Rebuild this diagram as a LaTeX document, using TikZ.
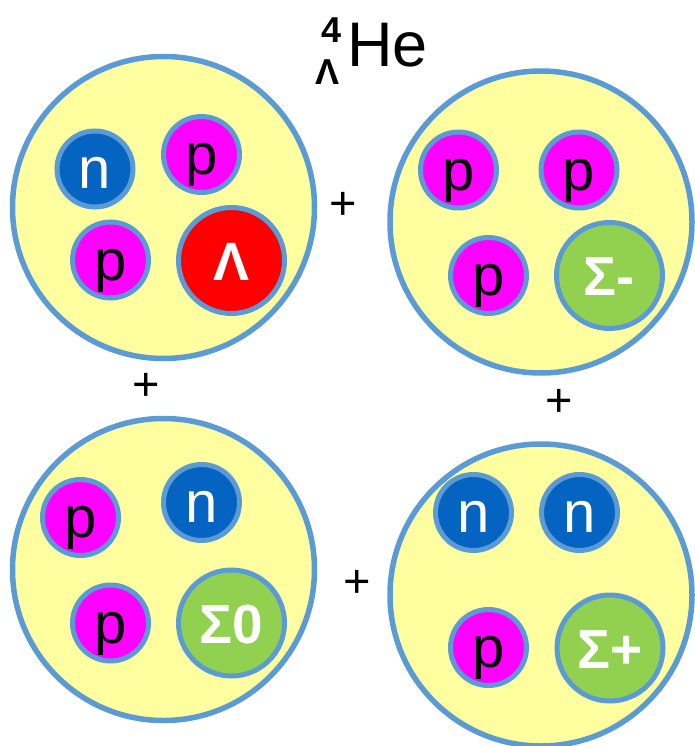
\documentclass[tikz,border=0pt]{standalone}
\usepackage{fontspec}
\setmainfont{Liberation Sans}
\definecolor{nucyellow}{HTML}{FFFF9F}
\definecolor{rimblue}{HTML}{5B9BD5}
\definecolor{neublue}{HTML}{0563C1}
\definecolor{promag}{HTML}{FF00FF}
\definecolor{lamred}{HTML}{FF0000}
\definecolor{siggreen}{HTML}{92D050}
\tikzset{
  nucleus/.style={circle, draw=rimblue, line width=5.5pt, fill=nucyellow, minimum size=302pt, inner sep=0pt},
  part/.style={circle, draw=rimblue, line width=5pt, inner sep=0pt, text height=40pt, text depth=0pt},
  neutron/.style={part, fill=neublue, minimum size=76pt, text=white, font=\fontsize{58}{58}\selectfont},
  proton/.style={part, fill=promag, minimum size=76pt, text=black, font=\fontsize{58}{58}\selectfont},
  hyperon/.style={part, minimum size=106pt, text=white, font=\bfseries\fontsize{55}{55}\selectfont},
  plus/.style={font=\fontsize{47}{47}\selectfont, inner sep=0pt}
}
\begin{document}
\begin{tikzpicture}[x=1pt, y=-1pt]
\useasboundingbox (0,0) rectangle (695,746);
% title
\node[anchor=base, inner sep=0pt, font=\fontsize{63}{63}\selectfont] (he) at (387.5,67) {He};
\node[anchor=base, inner sep=0pt, font=\bfseries\fontsize{36}{36}\selectfont] (four) at (331.5,43) {4};
\node[anchor=base, inner sep=0pt, font=\bfseries\fontsize{36}{36}\selectfont] (lamsub) at (327.5,85) {Λ};
% top-left
\node[nucleus] (A) at (163.5,207.5) {};
\node[neutron] (A1) at (95,169) {n};
\node[proton] (A2) at (201.5,154.5) {p};
\node[proton] (A3) at (110.5,260) {p};
\node[hyperon, fill=lamred, font=\bfseries\fontsize{54}{54}\selectfont] (A4) at (231.5,260.5) {Λ};
% top-right
\node[nucleus] (B) at (541,222) {};
\node[proton] (B1) at (458.5,170) {p};
\node[proton] (B2) at (579,170) {p};
\node[proton] (B3) at (488.5,275.5) {p};
\node[hyperon, fill=siggreen] (B4) at (609.5,275.5) {Σ-};
% bottom-left
\node[nucleus] (C) at (163.5,569.5) {};
\node[proton] (C1) at (80.5,517.5) {p};
\node[neutron] (C2) at (201.5,502.5) {n};
\node[proton] (C3) at (110.5,623) {p};
\node[hyperon, fill=siggreen] (C4) at (231.5,623) {Σ0};
% bottom-right
\node[nucleus] (D) at (541,595) {};
\node[neutron] (D1) at (473.5,512.5) {n};
\node[neutron] (D2) at (579.5,512.5) {n};
\node[proton] (D3) at (488.5,647.5) {p};
\node[hyperon, fill=siggreen] (D4) at (610,648) {Σ+};
% plus signs
\node[plus] (p1) at (343,205.5) {+};
\node[plus] (p2) at (146,386.5) {+};
\node[plus] (p3) at (559,403) {+};
\node[plus] (p4) at (357.5,583.5) {+};
\end{tikzpicture}
\end{document}
